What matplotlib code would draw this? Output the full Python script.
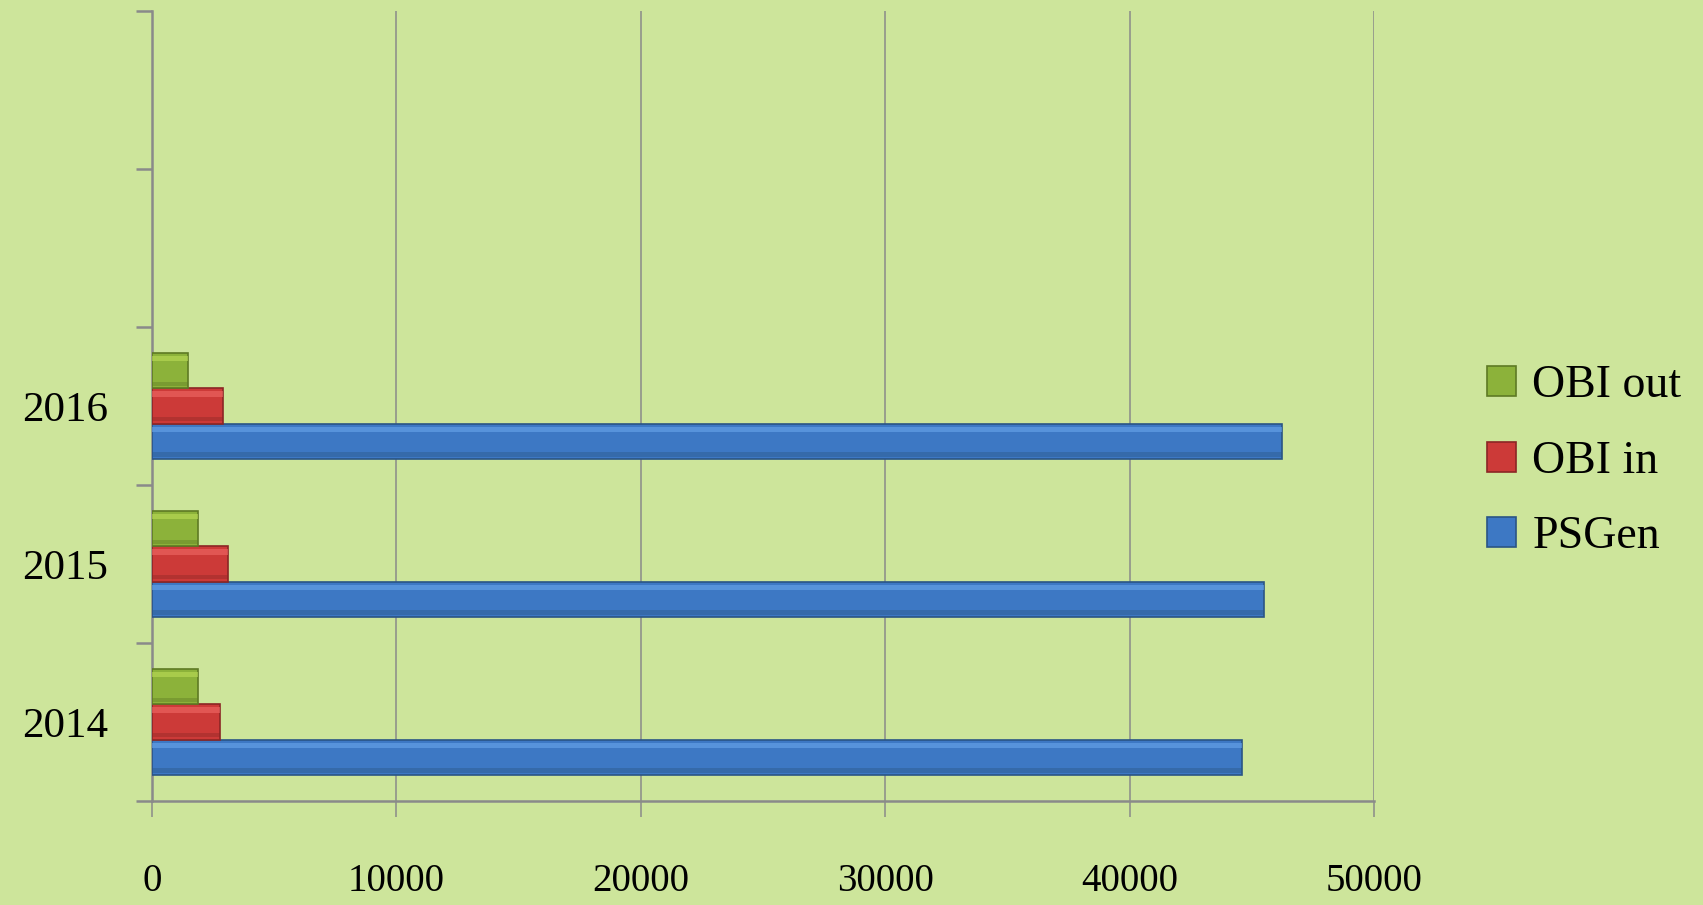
"""Horizontal grouped bar chart: PSGen vs OBI in / OBI out, 2014-2016."""

import matplotlib
matplotlib.use("Agg")
import matplotlib.pyplot as plt
import matplotlib.patches as mpatches
from matplotlib.ticker import FixedLocator, NullFormatter
import numpy as np

years = ["2014", "2015", "2016", "", ""]
series_names = ["PSGen", "OBI in", "OBI out"]
psgen = [44600, 45500, 46230]
obi_in = [2770, 3110, 2890]
obi_out = [1870, 1870, 1460]
x_ticks = [0, 10000, 20000, 30000, 40000, 50000]

BG = "#cde59b"
GRID = "#8a8a8a"
COLORS = {"PSGen": ("#3d78c4", "#6aa6ec", "#2a5585"),
          "OBI in": ("#cc3a38", "#f06a66", "#8c2625"),
          "OBI out": ("#8cb23a", "#bcdd58", "#5e7a24")}
FONT = "Liberation Serif"


def main():
    fig = plt.figure(figsize=(17.03, 9.05), dpi=100, facecolor=BG)
    ax = fig.add_axes([0.0893, 0.1149, 0.7176, 0.8729])
    ax.set_facecolor(BG)

    n_cat = len(years)
    values = {"PSGen": psgen, "OBI in": obi_in, "OBI out": obi_out}
    bar_h = 0.224
    offsets = {"PSGen": -bar_h, "OBI in": 0.0, "OBI out": bar_h}

    for name in series_names:
        base, light, dark = COLORS[name]
        vals = values[name]
        ys = np.arange(len(vals)) + offsets[name]
        ax.barh(ys, vals, height=bar_h, color=base, edgecolor=dark,
                linewidth=1.2, zorder=3)
        # bevel: light band on top, shade at bottom
        ax.barh(ys + bar_h * 0.34, vals, height=bar_h * 0.16, color=light,
                linewidth=0, zorder=4, alpha=0.6)
        ax.barh(ys - bar_h * 0.37, vals, height=bar_h * 0.12, color=dark,
                linewidth=0, zorder=4, alpha=0.4)

    ax.set_xlim(x_ticks[0], x_ticks[-1])
    ax.set_ylim(-0.5, n_cat - 0.5)

    ax.set_xticks(x_ticks)
    ax.set_xticklabels([str(t) for t in x_ticks], fontfamily=FONT, fontsize=28)
    ax.tick_params(axis="x", length=11.5, width=1.1, color=GRID, pad=33)
    ax.xaxis.grid(True, color=GRID, linewidth=1.1)
    ax.set_axisbelow(True)

    # category boundaries get the tick marks, labels sit in between
    ax.yaxis.set_major_locator(FixedLocator(np.arange(-0.5, n_cat, 1.0)))
    ax.yaxis.set_major_formatter(NullFormatter())
    ax.yaxis.set_minor_locator(FixedLocator(np.arange(n_cat)))
    ax.set_yticklabels(years, minor=True, fontfamily=FONT, fontsize=31)
    ax.tick_params(axis="y", which="major", length=11.5, width=1.8, color=GRID)
    ax.tick_params(axis="y", which="minor", length=0, pad=32)

    for side in ["top", "right"]:
        ax.spines[side].set_visible(False)
    for side in ["left", "bottom"]:
        ax.spines[side].set_color(GRID)
        ax.spines[side].set_linewidth(1.8)

    handles = [mpatches.Patch(facecolor=COLORS[n][0], edgecolor=COLORS[n][2],
                              linewidth=1.2, label=n) for n in series_names]
    fig.legend(handles[::-1], series_names[::-1], loc="center left",
               bbox_to_anchor=(0.849, 0.49), frameon=False,
               prop={"family": FONT, "size": 33},
               handlelength=0.64, handleheight=0.64,
               handletextpad=0.35, labelspacing=0.72)

    fig.savefig("out.png", dpi=100, facecolor=BG)


if __name__ == "__main__":
    main()
